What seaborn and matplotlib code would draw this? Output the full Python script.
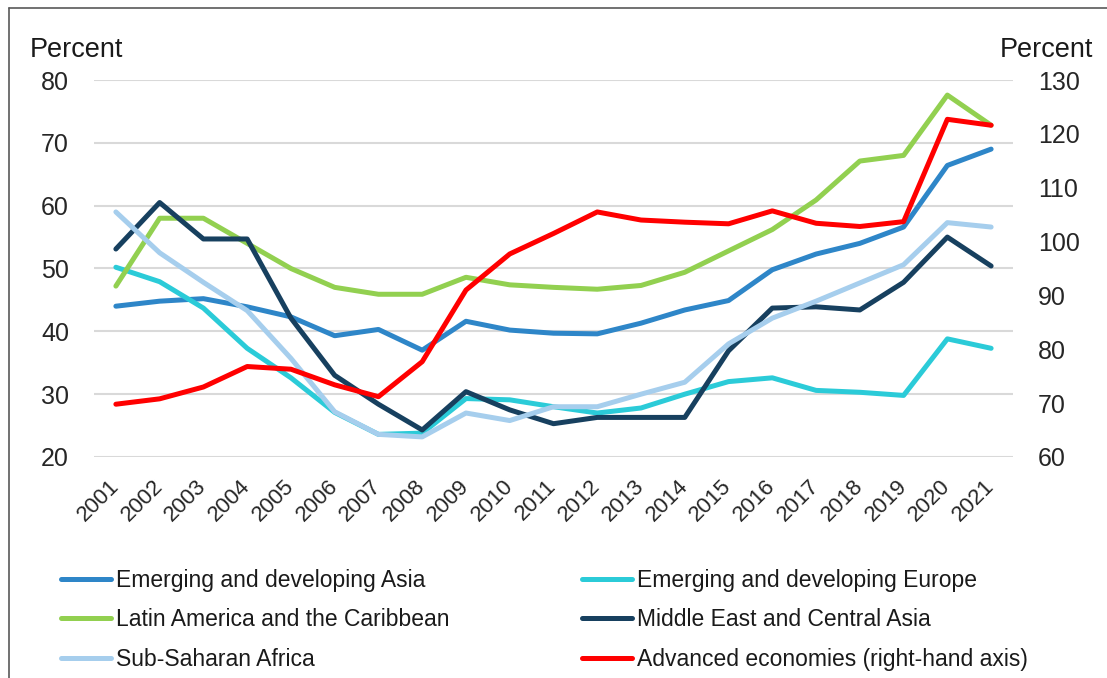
import numpy as np
import pandas as pd
import matplotlib
matplotlib.use('Agg')
import matplotlib.pyplot as plt
from matplotlib.lines import Line2D
import seaborn as sns

years = list(range(2001, 2022))

# left axis series (percent)
asia = [44.0, 44.8, 45.2, 43.9, 42.3, 39.3, 40.3, 37.0, 41.6, 40.2, 39.7,
        39.6, 41.3, 43.4, 44.9, 49.8, 52.3, 54.0, 56.6, 66.4, 69.0]
europe = [50.2, 47.9, 43.7, 37.3, 32.6, 27.1, 23.6, 23.8, 29.3, 29.1, 28.0,
          27.0, 27.8, 30.0, 32.0, 32.6, 30.6, 30.3, 29.8, 38.8, 37.3]
latam = [47.2, 58.0, 58.0, 54.0, 50.0, 47.0, 45.9, 45.9, 48.6, 47.4, 47.0,
         46.7, 47.3, 49.4, 52.8, 56.2, 60.9, 67.1, 68.0, 77.6, 72.8]
mideast = [53.1, 60.5, 54.7, 54.7, 42.1, 33.0, 28.4, 24.3, 30.4, 27.5, 25.3,
           26.3, 26.3, 26.3, 36.9, 43.7, 43.9, 43.4, 47.8, 55.0, 50.4]
ssa = [59.0, 52.5, 47.8, 43.3, 35.7, 27.2, 23.6, 23.2, 27.0, 25.8, 28.0,
       28.0, 30.0, 31.9, 38.0, 42.1, 44.8, 47.7, 50.6, 57.3, 56.6]
# right axis series (percent)
advanced = [69.8, 70.8, 73.0, 76.8, 76.3, 73.4, 71.2, 77.7, 91.0, 97.7, 101.5,
            105.5, 104.0, 103.6, 103.3, 105.7, 103.4, 102.8, 103.7, 122.7, 121.6]

names = ["Emerging and developing Asia", "Emerging and developing Europe",
         "Latin America and the Caribbean", "Middle East and Central Asia",
         "Sub-Saharan Africa"]
adv_name = "Advanced economies (right-hand axis)"
colors = ["#2E86C8", "#2BCBD8", "#92D050", "#17405F", "#A6CEED"]

sns.set_style("white")
plt.rcParams['font.family'] = ['Liberation Sans', 'DejaVu Sans']
plt.rcParams['text.color'] = '#1a1a1a'

df = pd.DataFrame({"year": years * 5,
                   "value": asia + europe + latam + mideast + ssa,
                   "region": sum([[n] * len(years) for n in names], [])})
df_adv = pd.DataFrame({"year": years, "value": advanced})

fig = plt.figure(figsize=(11.07, 6.78), dpi=100)
ax = fig.add_axes([94 / 1107, 1 - 457 / 678, (1013 - 94) / 1107, (457 - 80) / 678])

sns.lineplot(data=df, x="year", y="value", hue="region", hue_order=names,
             palette=colors, linewidth=3.6, ax=ax, legend=False)
ax2 = ax.twinx()
sns.lineplot(data=df_adv, x="year", y="value", color="#FF0000",
             linewidth=3.6, ax=ax2, legend=False)

ax.set_xlim(2000.5, 2021.5)
ax.set_ylim(20, 80)
ax2.set_ylim(60, 130)
ax.set_yticks(range(20, 81, 10))
ax2.set_yticks(range(60, 131, 10))
ax.set_xticks(years)
ax.set_xticklabels([str(y) for y in years], rotation=45, ha='right', va='center',
                   rotation_mode='anchor', fontsize=16)
ax.tick_params(axis='y', labelsize=18, length=0, pad=18)
ax2.tick_params(axis='y', labelsize=18, length=0, pad=18)
ax.tick_params(axis='x', length=0, pad=19)
ax.yaxis.grid(True, color='#D9D9D9', linewidth=1.5)
ax.xaxis.grid(False)
ax.set_xlabel("")
ax.set_ylabel("")
ax2.set_ylabel("")
for a in (ax, ax2):
    for s in a.spines.values():
        s.set_visible(False)

fig.text(30 / 1107, 1 - 57 / 678, "Percent", fontsize=19.5, va='baseline', ha='left')
fig.text(1093 / 1107, 1 - 57 / 678, "Percent", fontsize=19.5, va='baseline', ha='right')

handles = [Line2D([], [], color=c, linewidth=3.6) for c in colors]
handles.append(Line2D([], [], color="#FF0000", linewidth=3.6))
labels = names + [adv_name]
order = [0, 2, 4, 1, 3, 5]
fig.legend([handles[i] for i in order], [labels[i] for i in order],
           loc='upper left', bbox_to_anchor=(40 / 1107, 1 - 548 / 678),
           ncol=2, frameon=False, fontsize=16.5, handlelength=2.2,
           handletextpad=0.2, columnspacing=5.8, labelspacing=0.72)

# outer frame lines (left and top)
fig.add_artist(Line2D([9 / 1107, 9 / 1107], [0, 1 - 8 / 678],
                      transform=fig.transFigure, color='#595959', linewidth=1.2))
fig.add_artist(Line2D([9 / 1107, 1], [1 - 8 / 678, 1 - 8 / 678],
                      transform=fig.transFigure, color='#595959', linewidth=1.2))

fig.savefig("out.png", dpi=100)
